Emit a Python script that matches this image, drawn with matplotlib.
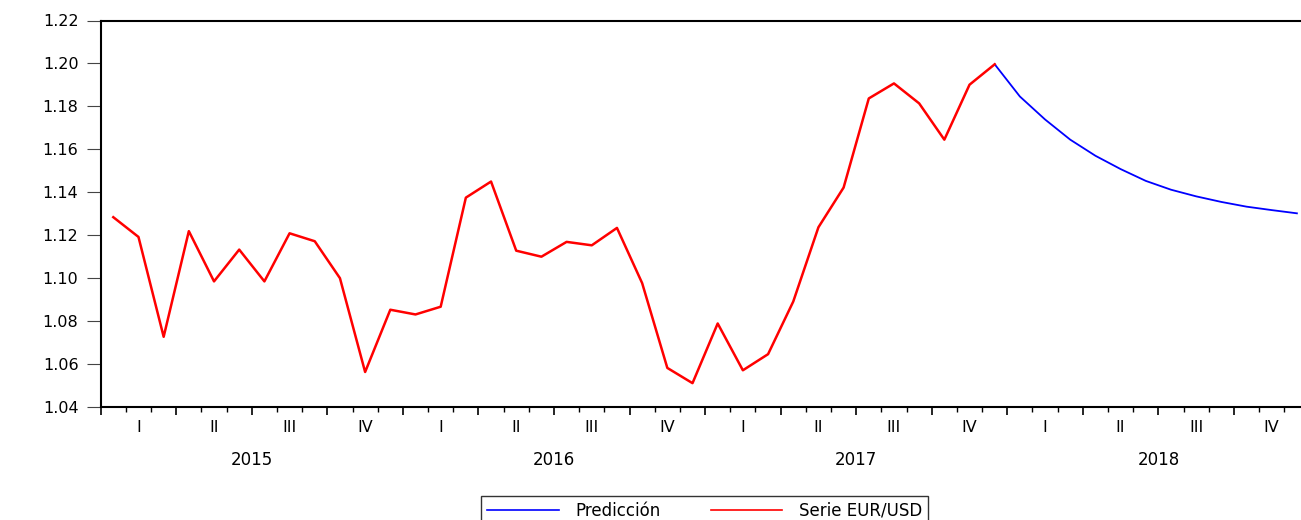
import matplotlib
matplotlib.use("Agg")
import matplotlib.pyplot as plt
from matplotlib.ticker import MultipleLocator, FormatStrFormatter

# Serie mensual EUR/USD (ene 2015 - dic 2017) y predicción (dic 2017 - dic 2018)
serie = [1.1284, 1.1192, 1.0727, 1.1219, 1.0985, 1.1133, 1.0985, 1.1209, 1.1172,
         1.1000, 1.0563, 1.0853, 1.0831, 1.0867, 1.1375, 1.1450, 1.1128, 1.1100,
         1.1169, 1.1153, 1.1234, 1.0977, 1.0582, 1.0511, 1.0789, 1.0571, 1.0646,
         1.0891, 1.1237, 1.1422, 1.1837, 1.1907, 1.1814, 1.1645, 1.1901, 1.1996]
prediccion = [1.1996, 1.1846, 1.1739, 1.1645, 1.1570, 1.1508, 1.1453, 1.1412,
              1.1381, 1.1355, 1.1333, 1.1317, 1.1302]
inicio_pred = 35  # la predicción arranca en dic 2017

anios = ['2015', '2016', '2017', '2018']
trimestres = ['I', 'II', 'III', 'IV']

plt.rcParams['font.family'] = ['DejaVu Sans']
fs = 11.5

fig = plt.figure(figsize=(13.01, 5.20), dpi=100)
W, H = 1301, 520
ax = fig.add_axes([100.7 / W, (H - 407) / H, (1309.5 - 100.7) / W, (407 - 20.5) / H])

x_serie = [i + 0.5 for i in range(len(serie))]
x_pred = [inicio_pred + i + 0.5 for i in range(len(prediccion))]

l_pred, = ax.plot(x_pred, prediccion, color='#0000ff', lw=1.3, label='Predicción')
l_serie, = ax.plot(x_serie, serie, color='#ff0000', lw=1.8, label='Serie EUR/USD')

ax.set_xlim(0, 12 * len(anios))
ax.set_ylim(1.04, 1.22)

# eje y
ax.yaxis.set_major_locator(MultipleLocator(0.02))
ax.yaxis.set_major_formatter(FormatStrFormatter('%.2f'))
ax.tick_params(axis='y', direction='out', length=10, width=0.8, pad=6,
               labelsize=fs, color='#444444')

# eje x: ticks mensuales, marcas largas cada trimestre
ax.xaxis.set_major_locator(MultipleLocator(3))
ax.xaxis.set_minor_locator(MultipleLocator(1))
ax.tick_params(axis='x', which='major', direction='out', length=6, width=1.2,
               labelbottom=False)
ax.tick_params(axis='x', which='minor', direction='out', length=3.5, width=1.0)

# etiquetas de trimestre y de año
xt = ax.get_xaxis_transform()
for a, anio in enumerate(anios):
    for q, t in enumerate(trimestres):
        ax.text(12 * a + 3 * q + 1.5, -0.052, t, transform=xt, ha='center',
                va='center', fontsize=fs)
    ax.text(12 * a + 6, -0.137, anio, transform=xt, ha='center', va='center',
            fontsize=fs + 0.5)

for s in ['left', 'bottom', 'top', 'right']:
    ax.spines[s].set_linewidth(1.5)
    ax.spines[s].set_color('black')

leg = fig.legend(handles=[l_pred, l_serie], loc='upper center',
                 bbox_to_anchor=((393 + 1016) / 2 / W, (H - 496) / H),
                 ncol=2, fontsize=fs + 0.5, frameon=True, fancybox=False,
                 handlelength=4.3, handletextpad=1.0, columnspacing=3.0,
                 borderpad=0.35, borderaxespad=0)
leg.get_frame().set_edgecolor('black')
leg.get_frame().set_linewidth(1.0)
for h in leg.get_lines():
    h.set_linewidth(1.2)

fig.savefig('out.png', dpi=100)
